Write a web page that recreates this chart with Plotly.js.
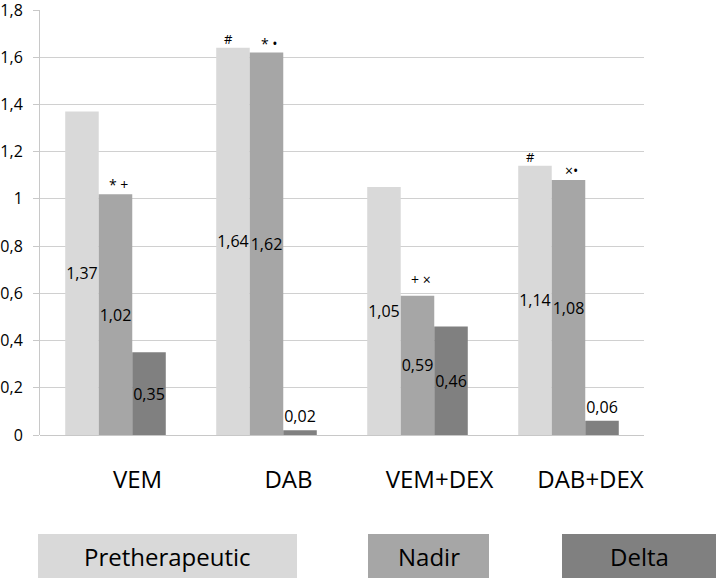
<!DOCTYPE html>
<html>
<head>
<meta charset="utf-8">
<script src="https://cdn.plot.ly/plotly-3.0.1.min.js"></script>
<style>
html,body{margin:0;padding:0;background:#fff;}
#chart{width:716px;height:581px;}
</style>
</head>
<body>
<div id="chart"></div>
<script>
// ---- data ----
var categories = ["VEM", "DAB", "VEM+DEX", "DAB+DEX"];
var seriesNames = ["Pretherapeutic", "Nadir", "Delta"];
var pretherapeutic = [1.37, 1.64, 1.05, 1.14];
var nadir = [1.02, 1.62, 0.59, 1.08];
var delta = [0.35, 0.02, 0.46, 0.06];
var preMarks = ["", "#", "", "#"];
var nadirMarks = ["* +", "* \u2022", "+ \u00d7", "\u00d7\u2022"];
var yTickVals = [0, 0.2, 0.4, 0.6, 0.8, 1, 1.2, 1.4, 1.6, 1.8];

// ---- styling ----
var colors = ["#d9d9d9", "#a6a6a6", "#808080"];
var FONT = "Open Sans, sans-serif";
var plotL = 40, plotR = 644, plotT = 10, plotB = 435;
function px2x(p){ return (p - plotL) / (plotR - plotL); }
function px2y(p){ return (plotB - p) / (plotB - plotT); }
var barW = 0.222;

function makeTrace(vals, i){
  return {
    type: "bar",
    name: seriesNames[i],
    x: categories,
    y: vals,
    marker: {color: colors[i], line: {width: 0}},
    texttemplate: "%{y:.2f}",
    textposition: vals.map(function(v){ return v < 0.1 ? "outside" : "inside"; }),
    insidetextanchor: "middle",
    textangle: 0,
    constraintext: "none",
    cliponaxis: false,
    textfont: {family: FONT, size: 16, color: "#000"},
    outsidetextfont: {family: FONT, size: 16, color: "#000"},
    insidetextfont: {family: FONT, size: 16, color: "#000"},
    hoverinfo: "none"
  };
}
var data = [makeTrace(pretherapeutic, 0), makeTrace(nadir, 1), makeTrace(delta, 2)];

var annotations = [];
categories.forEach(function(c, i){
  if (preMarks[i]) annotations.push({
    xref: "x", yref: "y", x: i - barW, y: pretherapeutic[i],
    text: preMarks[i], showarrow: false, yanchor: "bottom", xshift: -4, yshift: -2,
    font: {family: FONT, size: 13, color: "#000"}
  });
  if (nadirMarks[i]) annotations.push({
    xref: "x", yref: "y", x: i, y: nadir[i],
    text: nadirMarks[i], showarrow: false, yanchor: "bottom", xshift: 3, yshift: (i === 2 ? 5 : -2),
    font: {family: FONT, size: 14, color: "#000"}
  });
});

// legend boxes (drawn manually)
var legendBoxes = [[38, 297], [368, 489], [562, 720]];
var shapes = [];
legendBoxes.forEach(function(b, i){
  shapes.push({type: "rect", xref: "paper", yref: "paper",
    x0: px2x(b[0]), x1: px2x(b[1]), y0: px2y(578), y1: px2y(534),
    fillcolor: colors[i], line: {width: 0}, layer: "below"});
  annotations.push({xref: "paper", yref: "paper",
    x: px2x((b[0] + Math.min(b[1], 716)) / 2), y: px2y(556),
    text: seriesNames[i], showarrow: false, xanchor: "center", yanchor: "middle",
    font: {family: FONT, size: 24, color: "#000"}});
});

var layout = {
  width: 716, height: 581,
  margin: {l: plotL, r: 716 - plotR, t: plotT, b: 581 - plotB, pad: 0},
  paper_bgcolor: "#fff", plot_bgcolor: "#fff",
  separators: ", ",
  showlegend: false,
  barmode: "group",
  bargap: 0.334, bargroupgap: 0,
  font: {family: FONT, color: "#000"},
  xaxis: {
    type: "category",
    showgrid: false, zeroline: false, showline: false, ticks: "",
    tickfont: {family: FONT, size: 24, color: "#000"},
    ticklabelstandoff: 28, ticklabelshift: 22,
    fixedrange: true
  },
  yaxis: {
    range: [0, 1.8],
    tickvals: yTickVals,
    showgrid: true, gridcolor: "#d0d0d0", gridwidth: 1,
    zeroline: true, zerolinecolor: "#c8c8c8", zerolinewidth: 1,
    showline: true, linecolor: "#c8c8c8", linewidth: 1,
    ticks: "outside", ticklen: 6, tickcolor: "#c8c8c8",
    ticklabelstandoff: 7,
    ticklabeloverflow: "allow",
    tickfont: {family: FONT, size: 16, color: "#000"},
    fixedrange: true
  },
  annotations: annotations,
  shapes: shapes
};

Plotly.newPlot("chart", data, layout, {displayModeBar: false, staticPlot: true});
</script>
</body>
</html>
